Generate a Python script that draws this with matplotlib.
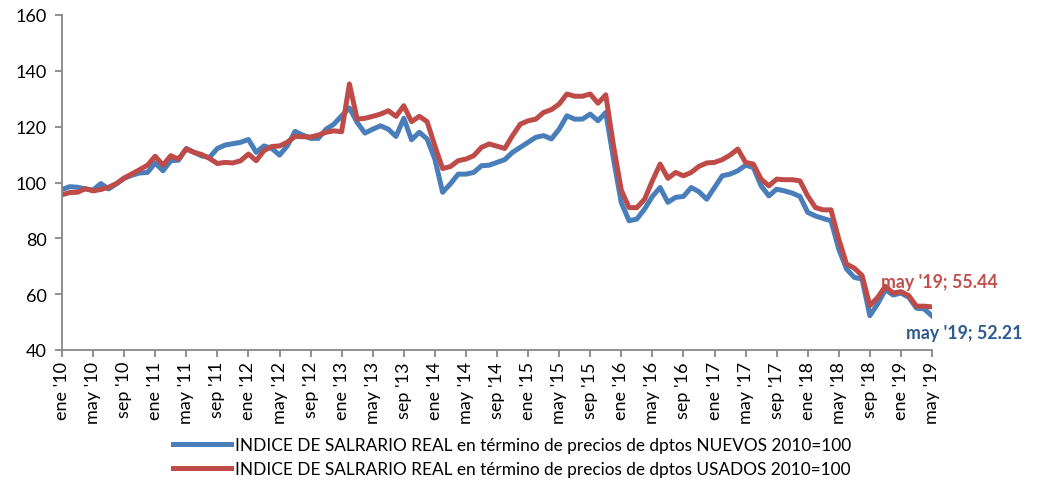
import numpy as np
import matplotlib
matplotlib.use("Agg")
import matplotlib.pyplot as plt

plt.rcParams["font.family"] = ["Lato", "DejaVu Sans"]

# meses ene '10 .. may '19
meses = ["ene", "feb", "mar", "abr", "may", "jun", "jul", "ago", "sep", "oct", "nov", "dic"]
labels = ["%s '%02d" % (meses[i % 12], 10 + i // 12) for i in range(113)]

nuevos = [97.5, 98.5, 98.3, 97.7, 97.3, 99.6, 97.7, 99.5, 101.5, 102.6, 103.4, 103.6,
          107.0, 104.2, 107.8, 108.0, 112.2, 110.8, 109.5, 109.0, 112.2, 113.4, 113.9, 114.4,
          115.4, 110.8, 113.1, 112.2, 109.8, 113.1, 118.3, 117.0, 115.8, 115.8, 119.1, 120.9,
          123.9, 126.7, 121.5, 117.7, 119.1, 120.3, 119.1, 116.5, 123.0, 115.3, 118.0, 115.6,
          108.4, 96.5, 99.5, 103.0, 103.0, 103.6, 106.0, 106.2, 107.2, 108.2, 110.8, 112.6,
          114.4, 116.2, 116.8, 115.6, 119.1, 123.9, 122.7, 122.7, 124.5, 122.1, 125.1, 108.4,
          92.8, 86.3, 86.9, 90.5, 95.0, 98.2, 92.9, 94.7, 95.0, 98.2, 96.7, 94.0,
          98.2, 102.4, 103.0, 104.2, 106.2, 105.4, 98.8, 95.2, 97.6, 97.0, 96.2, 95.0,
          89.3, 88.0, 87.1, 86.3, 76.1, 69.0, 66.0, 65.4, 52.3, 56.5, 61.6, 59.7,
          60.4, 58.9, 55.0, 54.7, 52.21]

usados = [95.6, 96.4, 96.5, 97.8, 97.0, 97.5, 98.3, 99.6, 101.6, 103.1, 104.6, 106.2,
          109.4, 106.2, 109.6, 108.4, 112.0, 110.8, 110.0, 108.6, 106.8, 107.2, 107.0, 107.8,
          110.2, 107.8, 111.4, 112.9, 113.1, 114.4, 116.5, 116.4, 116.3, 117.0, 118.0, 118.5,
          118.2, 135.3, 122.7, 123.0, 123.7, 124.5, 125.7, 123.7, 127.5, 121.8, 123.7, 121.8,
          113.1, 105.0, 105.7, 107.8, 108.4, 109.6, 112.6, 113.8, 113.0, 112.2, 116.8, 120.9,
          122.1, 122.7, 125.1, 126.1, 128.1, 131.7, 130.9, 130.9, 131.7, 128.4, 131.4, 113.1,
          97.3, 91.0, 91.0, 94.0, 100.6, 106.6, 101.5, 103.6, 102.4, 103.6, 105.8, 107.0,
          107.2, 108.2, 109.8, 112.0, 107.2, 106.6, 101.2, 98.8, 101.2, 101.0, 101.0, 100.6,
          95.2, 91.0, 90.2, 90.2, 79.7, 70.8, 69.3, 66.7, 55.9, 58.8, 62.8, 60.4,
          60.9, 59.5, 55.7, 55.7, 55.44]

x = np.arange(len(labels))

fig = plt.figure(figsize=(10.39, 4.85), dpi=100)
ax = fig.add_axes([62 / 1039, 1 - 351 / 485, (932 - 62) / 1039, (351 - 16) / 485])

azul = "#4A7EBB"
rojo = "#BE4B48"
ax.plot(x, nuevos, color=azul, lw=3.6, solid_joinstyle="round",
        label="INDICE DE SALRARIO REAL en término de precios de dptos NUEVOS 2010=100")
ax.plot(x, usados, color=rojo, lw=3.6, solid_joinstyle="round",
        label="INDICE DE SALRARIO REAL en término de precios de dptos USADOS 2010=100")

ax.set_xlim(0, len(labels) - 1)
ax.set_ylim(40, 160)
ax.set_yticks(range(40, 161, 20))
ax.set_xticks(x[::4])
ax.set_xticklabels(labels[::4], rotation=90)

for s in ["top", "right"]:
    ax.spines[s].set_visible(False)
for s in ["left", "bottom"]:
    ax.spines[s].set_color("#878787")
    ax.spines[s].set_linewidth(1.3)
ax.tick_params(axis="both", colors="#878787", labelcolor="black", labelsize=13,
               length=5, width=1.3, direction="out")
ax.tick_params(axis="x", pad=3)
ax.tick_params(axis="y", pad=6)

# etiquetas del ultimo dato
ax.annotate("may '19; %.2f" % usados[-1], (x[-1], usados[-1]), textcoords="offset points",
            xytext=(-37, 18), ha="left", va="center", color="#C0504D",
            fontsize=12.8, fontweight="bold", annotation_clip=False)
ax.annotate("may '19; %.2f" % nuevos[-1], (x[-1], nuevos[-1]), textcoords="offset points",
            xytext=(-19, -11.7), ha="left", va="center", color="#2F5C8F",
            fontsize=12.8, fontweight="bold", annotation_clip=False)

fig.legend(loc="center", bbox_to_anchor=(512 / 1039, 1 - 458 / 485), frameon=False,
           fontsize=12.4, handlelength=3.4, handletextpad=0.2, labelspacing=0.5,
           borderaxespad=0)

fig.savefig("out.png", dpi=100)
